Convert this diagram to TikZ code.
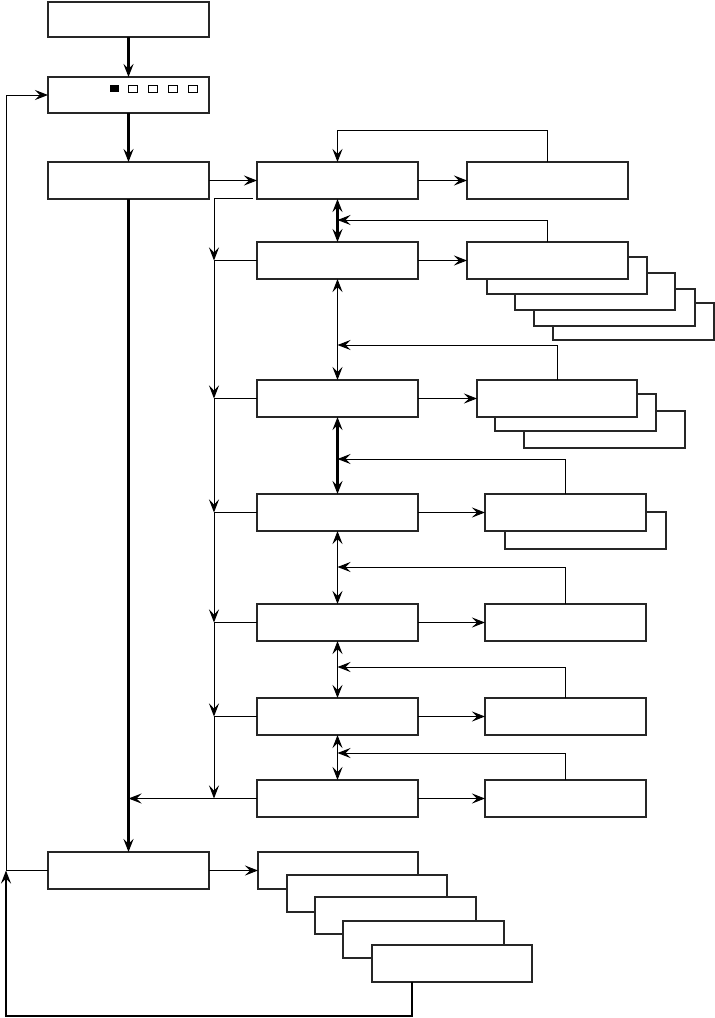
\documentclass[tikz,border=0pt]{standalone}
\usetikzlibrary{arrows.meta}
\begin{document}
\begin{tikzpicture}[x=1pt,y=-1pt,
  box/.style={draw=black!85,line width=1.2pt,fill=white,rectangle,inner sep=0pt,outer sep=0pt},
  thinln/.style={line width=1pt},
  thickln/.style={line width=2.2pt},
  arr/.style={-{Stealth[length=13pt,width=10pt,inset=5pt]}},
  darr/.style={{Stealth[length=13pt,width=10pt,inset=5pt]}-{Stealth[length=13pt,width=10pt,inset=5pt]}},
]
\newcommand\bx[5]{\node[box,minimum width={(#4-#2)*1pt},minimum height={(#5-#3)*1pt}] (#1) at ({(#2+#4)/2},{(#3+#5)/2}) {};}
\useasboundingbox (0,0) rectangle (715,1018);
% left column
\bx{top}{48}{2}{209}{37}
\bx{bb}{48}{77}{209}{113}
\bx{b3}{48}{162}{209}{199}
\bx{b4}{48}{852}{209}{889}
% indicator squares
\fill (110,85) rectangle (119,92);
\draw[line width=0.9pt] (128.5,85.5) rectangle (137,92);
\draw[line width=0.9pt] (148.5,85.5) rectangle (157,92);
\draw[line width=0.9pt] (168.5,85.5) rectangle (177,92);
\draw[line width=0.9pt] (188.5,85.5) rectangle (197,92);
% middle column
\bx{M1}{257}{162}{418}{199}
\bx{M2}{257}{242}{418}{279}
\bx{M3}{257}{380}{418}{417}
\bx{M4}{257}{494}{418}{531}
\bx{M5}{257}{604}{418}{641}
\bx{M6}{257}{698}{418}{735}
\bx{M7}{257}{780}{418}{817}
% right column
\bx{R1}{467}{162}{628}{199}
\bx{R2e}{553}{303}{714}{340}
\bx{R2d}{534}{289}{695}{326}
\bx{R2c}{515}{273}{675}{310}
\bx{R2b}{487}{257}{647}{294}
\bx{R2}{467}{242}{628}{279}
\bx{R3c}{524}{411}{685}{448}
\bx{R3b}{495}{394}{656}{431}
\bx{R3}{477}{380}{637}{417}
\bx{R4b}{505}{512}{666}{549}
\bx{R4}{485}{494}{646}{531}
\bx{R5}{485}{604}{646}{641}
\bx{R6}{485}{698}{646}{735}
\bx{R7}{485}{780}{646}{817}
% bottom stack
\bx{S1}{258}{852}{418}{889}
\bx{S2}{287}{875}{447}{912}
\bx{S3}{315}{897}{476}{934}
\bx{S4}{343}{921}{504}{958}
\bx{S5}{372}{945}{532}{982}
% main flow
\draw[thickln,arr] (top.south) -- (bb.north);
\draw[thickln,arr] (bb.south) -- (b3.north);
\draw[thickln,arr] (b3.south) -- (b4.north);
\draw[thinln,arr] (b3.east) -- (M1.west);
\draw[thinln,arr] (b4.east) -- (S1.west);
% middle to right
\draw[thinln,arr] (M1.east) -- (R1.west);
\draw[thinln,arr] (M2.east) -- (R2.west);
\draw[thinln,arr] (M3.east) -- (R3.west);
\draw[thinln,arr] (M4.east) -- (R4.west);
\draw[thinln,arr] (M5.east) -- (R5.west);
\draw[thinln,arr] (M6.east) -- (R6.west);
\draw[thinln,arr] (M7.east) -- (R7.west);
% double arrows
\draw[thickln,darr] (M1.south) -- (M2.north);
\draw[thinln,darr] (M2.south) -- (M3.north);
\draw[thickln,darr] (M3.south) -- (M4.north);
\draw[thinln,darr] (M4.south) -- (M5.north);
\draw[thinln,darr] (M5.south) -- (M6.north);
\draw[thinln,darr] (M6.south) -- (M7.north);
% feedbacks
\coordinate (f1) at (547.5,130);
\draw[thinln,arr] (R1.north) -- (f1) -| (M1.north);
\coordinate (c2) at (337.5,220);
\coordinate (c3) at (337.5,345);
\coordinate (c4) at (337.5,459);
\coordinate (c5) at (337.5,567);
\coordinate (c6) at (337.5,667);
\coordinate (c7) at (337.5,753);
\draw[thinln,arr] (R2.north) |- (c2);
\draw[thinln,arr] (R3.north) |- (c3);
\draw[thinln,arr] (R4.north) |- (c4);
\draw[thinln,arr] (R5.north) |- (c5);
\draw[thinln,arr] (R6.north) |- (c6);
\draw[thinln,arr] (R7.north) |- (c7);
% left distribution line
\coordinate (d0) at (253,198.5);
\coordinate (j2) at (214,260.5);
\coordinate (j3) at (214,398.5);
\coordinate (j4) at (214,512.5);
\coordinate (j5) at (214,622.5);
\coordinate (j6) at (214,716.5);
\coordinate (j7) at (214,798.5);
\coordinate (t7) at (128.5,798.5);
\draw[thinln,arr] (d0) -| (j2);
\draw[thinln,arr] (j2) -- (j3);
\draw[thinln,arr] (j3) -- (j4);
\draw[thinln,arr] (j4) -- (j5);
\draw[thinln,arr] (j5) -- (j6);
\draw[thinln,arr] (j6) -- (j7);
\draw[thinln] (M2.west) -- (j2);
\draw[thinln] (M3.west) -- (j3);
\draw[thinln] (M4.west) -- (j4);
\draw[thinln] (M5.west) -- (j5);
\draw[thinln] (M6.west) -- (j6);
\draw[thinln,arr] (M7.west) -- (t7);
% outer loops
\coordinate (L1) at (6,870.5);
\coordinate (L0) at (6,1016);
\coordinate (sb) at ([xshift=40pt]S5.south west);
\draw[thinln,arr] (b4.west) -- (L1) |- (bb.west);
\draw[thickln,arr] (sb) |- (L0) -- (L1);
\end{tikzpicture}
\end{document}
